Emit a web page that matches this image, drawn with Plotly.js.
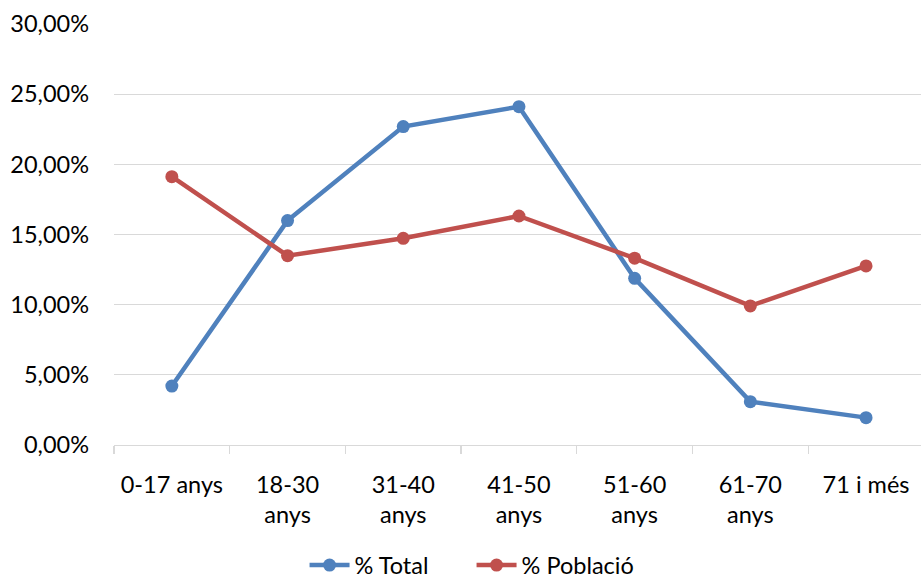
<!DOCTYPE html>
<html>
<head>
<meta charset="utf-8">
<script src="https://cdn.plot.ly/plotly-3.0.1.min.js"></script>
<style>html,body{margin:0;padding:0;background:#fff;overflow:hidden;}</style>
</head>
<body>
<div id="chart" style="width:921px;height:581px;"></div>
<script>
const categories = ["0-17 anys", "18-30<br>anys", "31-40<br>anys", "41-50<br>anys", "51-60<br>anys", "61-70<br>anys", "71 i més"];
const totalValues = [4.20, 15.99, 22.69, 24.11, 11.88, 3.09, 1.95];
const poblacioValues = [19.12, 13.49, 14.73, 16.32, 13.31, 9.91, 12.76];
const seriesNames = ["% Total", "% Població"];
const yTickVals = [0, 5, 10, 15, 20, 25, 30];
const yTickText = ["0,00%", "5,00%", "10,00%", "15,00%", "20,00%", "25,00%", "30,00%"];

const font = "Lato, 'Open Sans', sans-serif";
const traces = [
  {x: categories, y: totalValues, name: seriesNames[0], type: "scatter", mode: "lines+markers",
   line: {color: "#4F81BD", width: 4.5}, marker: {color: "#4F81BD", size: 13}},
  {x: categories, y: poblacioValues, name: seriesNames[1], type: "scatter", mode: "lines+markers",
   line: {color: "#C0504D", width: 4.5}, marker: {color: "#C0504D", size: 13}}
];
const layout = {
  width: 921, height: 581,
  margin: {l: 114, r: 0, t: 24, b: 136},
  paper_bgcolor: "#fff", plot_bgcolor: "#fff",
  font: {family: font, size: 23.5, color: "#000"},
  showlegend: true,
  legend: {orientation: "h", x: 0.512, xanchor: "center", xref: "container",
           y: 0.027, yanchor: "middle", yref: "container",
           font: {family: font, size: 23.5, color: "#000"}, itemwidth: 40,
           entrywidth: 112},
  xaxis: {type: "category", range: [-0.5, 6.475], tickson: "boundaries",
          ticks: "outside", ticklen: 8, tickcolor: "#D9D9D9", tickwidth: 1.3,
          showline: true, linecolor: "#D9D9D9", linewidth: 1.3,
          showgrid: false, zeroline: false, ticklabelstandoff: 18,
          tickfont: {family: font, size: 23.5, color: "#000"}, fixedrange: true},
  yaxis: {range: [0, 30], tickvals: yTickVals, ticktext: yTickText,
          showgrid: true, gridcolor: "#D9D9D9", gridwidth: 1.3,
          zeroline: false, showline: false, ticks: "", ticklabelstandoff: 24,
          tickfont: {family: font, size: 23.5, color: "#000"}, fixedrange: true}
};
Plotly.newPlot("chart", traces, layout, {displayModeBar: false, staticPlot: true});
</script>
</body>
</html>
